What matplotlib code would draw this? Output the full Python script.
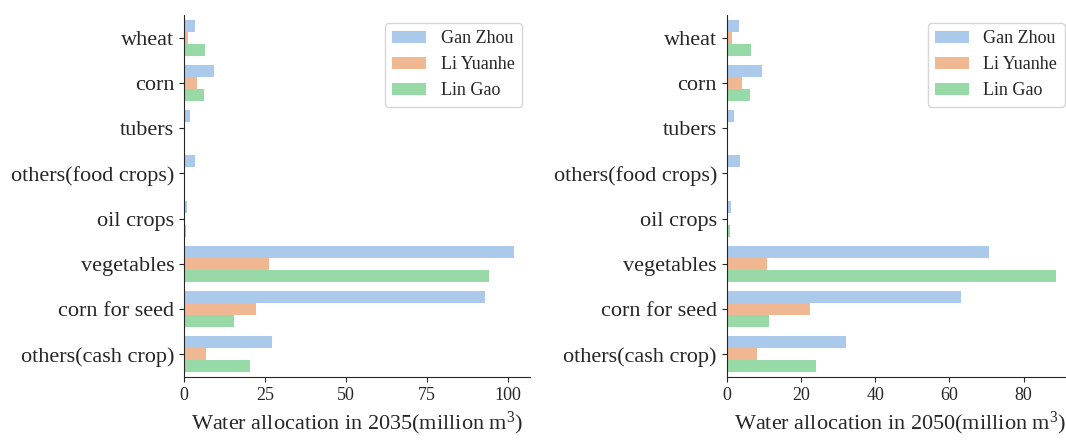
import numpy as np
import matplotlib
matplotlib.use("Agg")
import matplotlib.pyplot as plt
import seaborn as sns

sns.set_style("ticks")
plt.rcParams["font.family"] = ["Liberation Serif", "DejaVu Serif"]
plt.rcParams["mathtext.fontset"] = "custom"
plt.rcParams["mathtext.rm"] = "Liberation Serif"

crops = ["wheat", "corn", "tubers", "others(food crops)", "oil crops",
         "vegetables", "corn for seed", "others(cash crop)"]
regions = ["Gan Zhou", "Li Yuanhe", "Lin Gao"]

# water allocation, million m^3
gan_zhou_2035 = [3.4, 9.4, 2.0, 3.4, 1.0, 101.6, 92.7, 27.1]
li_yuanhe_2035 = [1.3, 3.9, 0.0, 0.0, 0.0, 26.2, 22.2, 6.7]
lin_gao_2035 = [6.5, 6.2, 0.0, 0.0, 0.7, 94.1, 15.4, 20.2]

gan_zhou_2050 = [3.4, 9.4, 2.0, 3.5, 1.2, 70.7, 63.2, 32.2]
li_yuanhe_2050 = [1.3, 4.0, 0.0, 0.0, 0.0, 10.8, 22.4, 8.1]
lin_gao_2050 = [6.5, 6.3, 0.0, 0.0, 0.9, 88.8, 11.5, 24.0]

ticks_2035 = [0, 25, 50, 75, 100]
ticks_2050 = [0, 20, 40, 60, 80]

colors = [sns.desaturate(c, 0.75) for c in sns.color_palette("pastel", 3)]

fig = plt.figure(figsize=(10.66, 4.41), dpi=100)
ax1 = fig.add_axes([184 / 1066, 64 / 441, 346 / 1066, 362 / 441])
ax2 = fig.add_axes([726.7 / 1066, 64 / 441, 346 / 1066, 362 / 441])


def draw(ax, series, xticks, year):
    y = np.arange(len(crops))
    h = 0.8 / len(series)
    for i, (vals, name, col) in enumerate(zip(series, regions, colors)):
        ax.barh(y - 0.4 + h * (i + 0.5), vals, height=h, color=col,
                label=name, linewidth=0)
    ax.set_yticks(y)
    ax.set_yticklabels(crops, fontsize=16)
    ax.set_ylim(len(crops) - 0.5, -0.5)
    ax.set_xlim(0, max(max(s) for s in series) * 1.05)
    ax.set_xticks(xticks)
    ax.tick_params(axis="x", labelsize=13)
    ax.set_xlabel("Water allocation in %d(million m$\\mathregular{^3}$)" % year,
                  fontsize=16, labelpad=4)
    sns.despine(ax=ax)
    ax.legend(loc="upper right", fontsize=13, handlelength=1.9,
              handletextpad=0.8, borderaxespad=0.45)


draw(ax1, [gan_zhou_2035, li_yuanhe_2035, lin_gao_2035], ticks_2035, 2035)
draw(ax2, [gan_zhou_2050, li_yuanhe_2050, lin_gao_2050], ticks_2050, 2050)

fig.savefig("out.png", dpi=100)
